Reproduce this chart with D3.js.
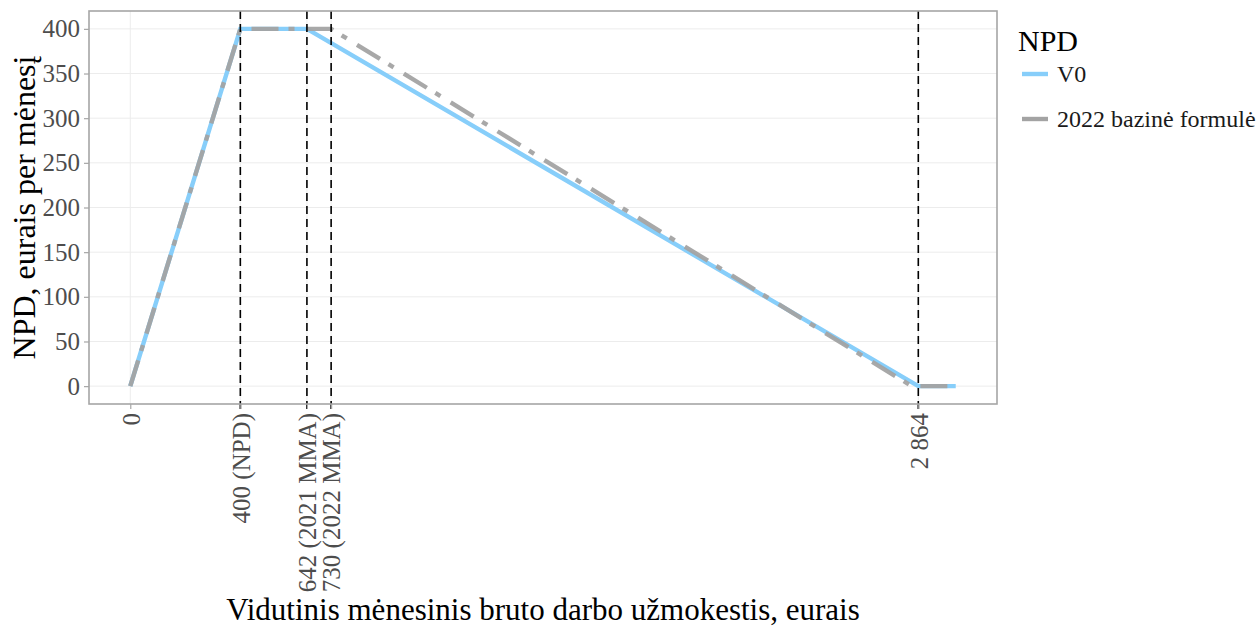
<!DOCTYPE html>
<html><head><meta charset="utf-8">
<script src="https://cdn.jsdelivr.net/npm/d3@7"></script>
<style>body{margin:0;background:#fff}</style>
</head><body>
<svg id="c" width="1260" height="628"></svg>
<script>
const seriesNames = ["V0", "2022 bazinė formulė"];
const v0X = [0, 400, 642, 2864, 3000];
const v0Y = [0, 400, 400, 0, 0];
const f22X = [0, 400, 730, 2840, 3000];
const f22Y = [0, 400, 400, 0, 0];
const vlines = [400, 642, 730, 2864];
const xTickVals = [0, 400, 642, 730, 2864];
const xTickLabels = ["0", "400 (NPD)", "642 (2021 MMA)", "730 (2022 MMA)", "2 864"];
const yTickVals = [0, 50, 100, 150, 200, 250, 300, 350, 400];

const svg = d3.select("#c");
const L = 89, R = 997, T = 11, B = 404;
const x = d3.scaleLinear().domain([-150, 3150]).range([L, R]);
const y = d3.scaleLinear().domain([-20, 420]).range([B, T]);
const font = "'Liberation Serif', 'Times New Roman', serif";

// grid
svg.append("g").selectAll("line").data(yTickVals).join("line")
  .attr("x1", L).attr("x2", R).attr("y1", d => y(d)).attr("y2", d => y(d))
  .attr("stroke", "#ececec").attr("stroke-width", 1);
svg.append("g").selectAll("line").data(xTickVals).join("line")
  .attr("y1", T).attr("y2", B).attr("x1", d => x(d)).attr("x2", d => x(d))
  .attr("stroke", "#ececec").attr("stroke-width", 1);

const line = d3.line().x(d => x(d[0])).y(d => y(d[1]));
const v0 = v0X.map((d, i) => [d, v0Y[i]]);
const f22 = f22X.map((d, i) => [d, f22Y[i]]);

svg.append("path").attr("d", line(v0)).attr("fill", "none")
  .attr("stroke", "#87cefa").attr("stroke-width", 4.4);
svg.append("path").attr("d", line(f22)).attr("fill", "none")
  .attr("stroke", "#a3a3a3").attr("stroke-opacity", 0.95).attr("stroke-width", 4.4)
  .attr("stroke-dasharray", "27,10,6,12");

// vlines
svg.append("g").selectAll("line").data(vlines).join("line")
  .attr("x1", d => x(d)).attr("x2", d => x(d)).attr("y1", T).attr("y2", B + 6)
  .attr("stroke", "#000").attr("stroke-width", 1.6).attr("stroke-dasharray", "8,5");

// panel border
svg.append("rect").attr("x", L).attr("y", T).attr("width", R - L).attr("height", B - T)
  .attr("fill", "none").attr("stroke", "#a6a6a6").attr("stroke-width", 1.6);

// y axis
const yAxis = d3.axisLeft(y).tickValues(yTickVals).tickSize(5).tickPadding(4);
const ga = svg.append("g").attr("transform", `translate(${L},0)`).call(yAxis);
ga.select(".domain").remove();
ga.selectAll(".tick line").attr("stroke", "#a6a6a6").attr("stroke-width", 1.2);
ga.selectAll(".tick text").attr("font-family", font).attr("font-size", 25).attr("fill", "#4d4d4d");

// x axis
const xAxis = d3.axisBottom(x).tickValues(xTickVals).tickSize(5)
  .tickFormat((d, i) => xTickLabels[i]);
const gx = svg.append("g").attr("transform", `translate(0,${B})`).call(xAxis);
gx.select(".domain").remove();
gx.selectAll(".tick line").attr("stroke", "#a6a6a6").attr("stroke-width", 1.2);
gx.selectAll(".tick text").attr("font-family", font).attr("font-size", 25).attr("fill", "#4d4d4d")
  .attr("transform", "rotate(-90)").attr("text-anchor", "end")
  .attr("x", -9).attr("y", 0).attr("dy", "0.35em");

// titles
svg.append("text").attr("x", (L + R) / 2).attr("y", 620).attr("text-anchor", "middle")
  .attr("font-family", font).attr("font-size", 31).attr("fill", "#000")
  .text("Vidutinis mėnesinis bruto darbo užmokestis, eurais");
svg.append("text").attr("transform", `translate(35,${(T + B) / 2}) rotate(-90)`)
  .attr("text-anchor", "middle").attr("font-family", font).attr("font-size", 32).attr("fill", "#000")
  .text("NPD, eurais per mėnesį");

// legend
const lg = svg.append("g");
lg.append("text").attr("x", 1018).attr("y", 51).attr("font-family", font).attr("font-size", 30)
  .attr("fill", "#000").text("NPD");
const keyColors = ["#87cefa", "#a3a3a3"];
const keyY = [74, 119];
seriesNames.forEach((s, i) => {
  lg.append("line").attr("x1", 1022).attr("x2", 1048).attr("y1", keyY[i]).attr("y2", keyY[i])
    .attr("stroke", keyColors[i]).attr("stroke-width", 4.4);
  lg.append("text").attr("x", 1057).attr("y", keyY[i]).attr("dy", "0.35em")
    .attr("font-family", font).attr("font-size", 24).attr("fill", "#1a1a1a").text(s);
});
</script>
</body></html>
